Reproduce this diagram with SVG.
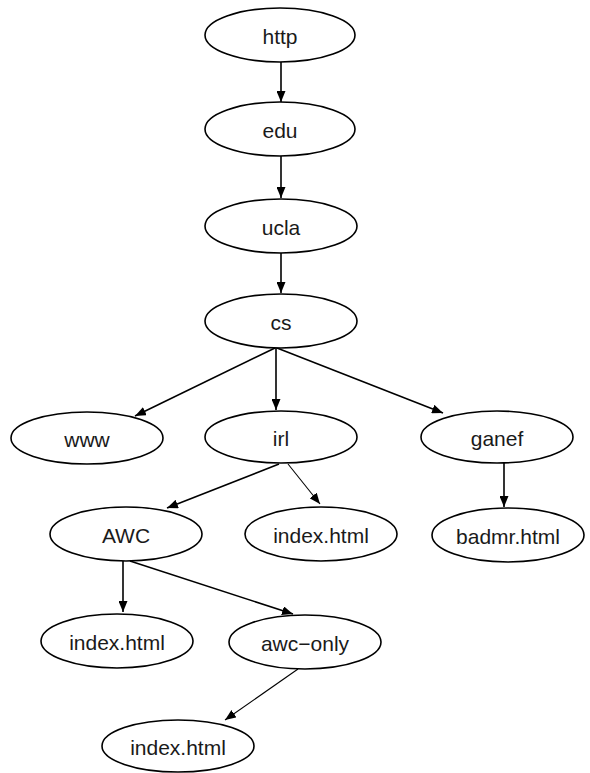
<svg xmlns="http://www.w3.org/2000/svg" width="590" height="773" viewBox="0 0 590 773">
<style>
.n ellipse{fill:#fff;stroke:#000;stroke-width:1.6}
.n text{font-family:"Liberation Sans",Arial,sans-serif;font-size:21px;fill:#1a1a1a;text-anchor:middle}
.e line{stroke:#000;stroke-width:1.6;marker-end:url(#ah)}
.e line.thin{stroke-width:1.1}
</style>
<defs>
<marker id="ah" markerUnits="userSpaceOnUse" markerWidth="11" markerHeight="9" refX="11" refY="4.5" orient="auto">
<path d="M0,0 L11,4.5 L0,9 z" fill="#000"/>
</marker>
</defs>
<rect width="590" height="773" fill="#fff"/>
<g id="edges" class="e">
<line x1="281" y1="62" x2="281" y2="102"/>
<line x1="281" y1="156" x2="281" y2="198"/>
<line x1="281" y1="253" x2="281" y2="293"/>
<line x1="275" y1="348" x2="135" y2="416"/>
<line x1="276" y1="348" x2="276" y2="410"/>
<line x1="277" y1="348" x2="443" y2="413"/>
<line x1="279" y1="464" x2="167" y2="508"/>
<line class="thin" x1="288" y1="464" x2="320" y2="504"/>
<line x1="504" y1="463" x2="504" y2="507"/>
<line x1="123" y1="561" x2="123" y2="612"/>
<line x1="130" y1="561" x2="293" y2="614"/>
<line class="thin" x1="298" y1="669" x2="225" y2="720"/>
</g>
<g id="http" class="n"><ellipse cx="280" cy="35" rx="75" ry="27"/><text x="280" y="44">http</text></g>
<g id="edu" class="n"><ellipse cx="280" cy="129" rx="75" ry="27"/><text x="280" y="138">edu</text></g>
<g id="ucla" class="n"><ellipse cx="281" cy="226" rx="76" ry="27"/><text x="281" y="235">ucla</text></g>
<g id="cs" class="n"><ellipse cx="281" cy="321" rx="76" ry="27"/><text x="281" y="330">cs</text></g>
<g id="www" class="n"><ellipse cx="87" cy="438" rx="76" ry="26"/><text x="87" y="447">www</text></g>
<g id="irl" class="n"><ellipse cx="281" cy="437" rx="76" ry="26"/><text x="281" y="446">irl</text></g>
<g id="ganef" class="n"><ellipse cx="497" cy="437" rx="76" ry="26"/><text x="497" y="446">ganef</text></g>
<g id="AWC" class="n"><ellipse cx="126" cy="534" rx="76" ry="27"/><text x="126" y="543">AWC</text></g>
<g id="index_irl" class="n"><ellipse cx="321" cy="534" rx="76" ry="27"/><text x="321" y="543">index.html</text></g>
<g id="badmr" class="n"><ellipse cx="508" cy="535" rx="76" ry="27"/><text x="508" y="544">badmr.html</text></g>
<g id="index_awc" class="n"><ellipse cx="117" cy="641" rx="76" ry="27"/><text x="117" y="650">index.html</text></g>
<g id="awc_only" class="n"><ellipse cx="305" cy="642" rx="76" ry="27"/><text x="305" y="651">awc−only</text></g>
<g id="index_bottom" class="n"><ellipse cx="178" cy="746" rx="76" ry="26"/><text x="178" y="755">index.html</text></g>
</svg>
